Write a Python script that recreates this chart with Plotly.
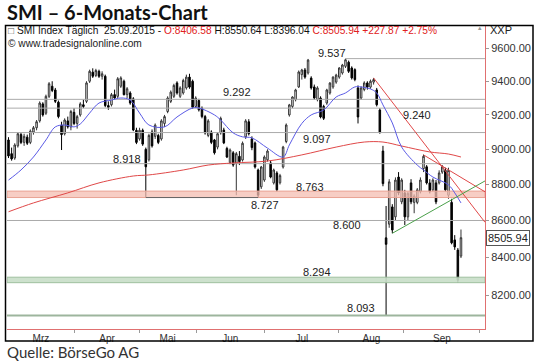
import math
import plotly.graph_objects as go

# ---------------- data ----------------
day_index = list(range(146))
open_px = [9054, 8975, 8950, 9020, 9085, 9040, 9070, 9040, 9100, 9125,
           9165, 9265, 9210, 9310, 9370, 9348, 9275, 9140, 9090, 9165,
           9130, 9215, 9150, 9200, 9260, 9280, 9400, 9455, 9435, 9460,
           9430, 9430, 9255, 9260, 9320, 9310, 9370, 9400, 9320, 9330,
           9295, 9110, 9060, 9110, 9000, 8940, 9100, 9075, 9080, 9060,
           9150, 9220, 9280, 9310, 9390, 9310, 9330, 9360, 9425, 9400,
           9250, 9285, 9240, 9190, 9080, 9100, 9054, 9013, 9095, 9112,
           9005, 8925, 8980, 8920, 8960, 8939, 9072, 9160, 9060, 9037,
           8882, 8787, 8825, 8940, 8922, 8809, 8865, 8810, 8899, 9045,
           9200, 9250, 9290, 9366, 9440, 9468, 9450, 9419, 9366, 9290,
           9300, 9250, 9270, 9330, 9366, 9395, 9425, 9450, 9490, 9515,
           9480, 9470, 9360, 9300, 9350, 9390, 9365, 9395, 9348, 9229,
           8990, 8505, 8580, 8675, 8620, 8842, 8703, 8753, 8620, 8809,
           8700, 8700, 8760, 8890, 8900, 8809, 8770, 8809, 8809, 8870,
           8880, 8740, 8700, 8494, 8439, 8406.58]
high_px = [9070, 9010, 9035, 9100, 9095, 9090, 9085, 9115, 9135, 9170,
           9280, 9275, 9320, 9395, 9400, 9360, 9285, 9160, 9180, 9190,
           9230, 9240, 9200, 9275, 9290, 9400, 9470, 9478, 9475, 9470,
           9460, 9440, 9280, 9330, 9350, 9425, 9430, 9410, 9365, 9340,
           9305, 9125, 9125, 9120, 9010, 9090, 9115, 9150, 9090, 9175,
           9200, 9310, 9345, 9385, 9400, 9370, 9415, 9440, 9445, 9410,
           9310, 9295, 9250, 9200, 9175, 9110, 9060, 9100, 9190, 9125,
           9015, 9005, 8990, 8985, 8990, 9045, 9175, 9175, 9075, 9045,
           8890, 8905, 8965, 9000, 8935, 8890, 8875, 8860, 9020, 9150,
           9265, 9310, 9355, 9465, 9475, 9480, 9535, 9430, 9380, 9370,
           9310, 9260, 9355, 9395, 9430, 9445, 9485, 9505, 9537, 9525,
           9490, 9478, 9375, 9370, 9400, 9400, 9410, 9420, 9360, 9240,
           9020, 8680, 8830, 8690, 8840, 8870, 8835, 8770, 8760, 8830,
           8745, 8780, 8840, 8970, 8910, 8830, 8835, 8825, 8880, 8910,
           8895, 8895, 8720, 8520, 8450, 8550.64]
low_px = [8950, 8935, 8940, 9010, 9030, 9020, 9025, 9030, 9085, 9110,
          9155, 9190, 9200, 9300, 9335, 9270, 9180, 8996, 9080, 9120,
          9110, 9140, 9120, 9190, 9240, 9270, 9390, 9420, 9425, 9420,
          9410, 9245, 9230, 9250, 9290, 9300, 9360, 9315, 9300, 9260,
          9105, 9030, 9050, 9020, 8727, 8930, 9010, 9060, 9030, 9050,
          9130, 9210, 9270, 9300, 9320, 9300, 9320, 9350, 9355, 9235,
          9240, 9220, 9180, 9085, 9070, 9030, 8970, 9000, 9085, 9030,
          8950, 8915, 8900, 8740, 8910, 8930, 9060, 9080, 8995, 8890,
          8727, 8775, 8815, 8930, 8835, 8800, 8760, 8800, 8890, 9035,
          9190, 9240, 9280, 9360, 9410, 9415, 9440, 9350, 9290, 9280,
          9180, 9170, 9260, 9320, 9355, 9385, 9415, 9440, 9480, 9450,
          9410, 9400, 9150, 9290, 9340, 9350, 9355, 9380, 9250, 9090,
          8790, 8093, 8560, 8530, 8600, 8740, 8690, 8575, 8600, 8690,
          8640, 8690, 8750, 8870, 8800, 8750, 8760, 8690, 8800, 8860,
          8760, 8720, 8470, 8440, 8265, 8396.04]
close_px = [8962, 8945, 9025, 9090, 9040, 9075, 9035, 9105, 9125, 9160,
            9270, 9200, 9310, 9385, 9345, 9280, 9190, 9085, 9170, 9130,
            9220, 9150, 9190, 9265, 9250, 9390, 9460, 9430, 9465, 9430,
            9445, 9255, 9245, 9320, 9300, 9415, 9420, 9320, 9355, 9270,
            9112, 9040, 9110, 9030, 8900, 9080, 9020, 9140, 9040, 9165,
            9190, 9300, 9335, 9375, 9330, 9360, 9405, 9425, 9365, 9245,
            9300, 9230, 9190, 9095, 9165, 9040, 8980, 9090, 9180, 9037,
            8956, 8996, 8910, 8975, 8930, 9035, 9165, 9090, 9010, 8899,
            8740, 8899, 8956, 8990, 8842, 8882, 8770, 8850, 9013, 9141,
            9259, 9306, 9348, 9456, 9468, 9425, 9528, 9360, 9300, 9360,
            9188, 9180, 9348, 9389, 9425, 9437, 9480, 9498, 9530, 9460,
            9420, 9410, 9188, 9360, 9390, 9365, 9400, 9410, 9260, 9100,
            8805, 8470, 8815, 8548, 8825, 8753, 8825, 8620, 8750, 8703,
            8735, 8770, 8825, 8960, 8809, 8760, 8825, 8703, 8865, 8900,
            8770, 8880, 8478, 8456, 8278.07, 8505.94]

# short moving average (blue)
ma_fast_idx = [0, 4, 8, 12, 15, 18, 21, 23, 26, 29, 33, 36, 39, 42, 45, 50, 54,
               59, 61, 66, 68, 72, 75, 78, 83, 88, 90, 94, 97, 101, 105, 108,
               111, 113, 116, 118, 120, 123, 126, 131, 133, 136, 141, 143, 145]
ma_fast_val = [8825, 8882, 8956, 9054, 9130, 9141, 9130, 9147, 9211, 9270, 9288,
               9300, 9288, 9211, 9141, 9130, 9188, 9241, 9241, 9200, 9170, 9095,
               9072, 9066, 9007, 8956, 9025, 9150, 9200, 9229, 9306, 9330, 9366,
               9366, 9354, 9330, 9259, 9153, 9013, 8910, 8882, 8842, 8798, 8753,
               8697]
# long moving average (red)
ma_slow_idx = [0, 8, 19, 29, 40, 45, 56, 64, 72, 83, 94, 105, 114, 120, 126, 135, 141, 145]
ma_slow_val = [8648, 8697, 8753, 8809, 8848, 8854, 8882, 8910, 8922, 8933, 8968,
               9013, 9042, 9042, 9019, 8985, 8973, 8956]

month_names = ["Mrz", "Apr", "Mai", "Jun", "Jul", "Aug", "Sep"]
month_centers = [10.4, 31.6, 51.0, 71.1, 94.0, 116.3, 138.9]
month_edges = [21.3, 41.9, 60.1, 82.1, 105.8, 126.7, 151.0]
price_ticks = [8200, 8400, 8600, 8800, 9000, 9200, 9400, 9600]

full_levels = [9292, 9240, 9097, 8918, 8600]
bottom_level = 8093
peak_level, peak_from_idx = 9537, 108
support_level, support_from_idx, support_to_idx = 8727, 44, 80
pink_band = [8727, 8763]
green_band = [8265, 8294]

trend_red_a_idx, trend_red_a_val = [117, 152.7], [9420, 8590]
trend_red_b_idx, trend_red_b_val = [133, 152.7], [8968, 8759]
trend_green_idx, trend_green_val = [123, 152.7], [8530, 8820]

level_labels = ["9.537", "9.292", "9.240", "9.097", "8.918", "8.763", "8.727", "8.600", "8.294", "8.093"]

last_close = 8505.94
header_black1 = "SMI Index Täglich\u00a0\u00a025.09.2015 - "
header_red1 = "O:8406.58"
header_black2 = " H:8550.64 L:8396.04 "
header_red2 = "C:8505.94 +227.87 +2.75%"

# ---------------- layout geometry ----------------
W, H = 540, 364
L, R, T, B = 7, 55, 25, 35
PW, PH = W - L - R, H - T - B
X_RANGE = [-0.48, 152.7]
Y_RANGE = [math.log10(8024), math.log10(9744)]

label_px = [(332, 53), (237, 92), (417, 115), (317, 139), (127, 159),
            (310, 187), (265, 205), (347, 225), (317, 272), (361, 308)]


def paper(px, py):
    return (px - L) / PW, (H - B - py) / PH


fig = go.Figure()

# bands
for band, fillc, linec in [(pink_band, "rgba(244,190,178,0.75)", "#e9a394"),
                           (green_band, "rgba(200,222,200,0.9)", "#9fc09f")]:
    fig.add_trace(go.Scatter(
        x=[X_RANGE[0], X_RANGE[1], X_RANGE[1], X_RANGE[0], X_RANGE[0]],
        y=[band[0], band[0], band[1], band[1], band[0]],
        mode="lines", fill="toself", fillcolor=fillc,
        line=dict(color=linec, width=1), hoverinfo="skip"))

# horizontal levels
for lv in full_levels:
    fig.add_trace(go.Scatter(x=X_RANGE, y=[lv, lv], mode="lines",
                             line=dict(color="#ababab", width=1), hoverinfo="skip"))
fig.add_trace(go.Scatter(x=X_RANGE, y=[bottom_level, bottom_level], mode="lines",
                         line=dict(color="#9db59d", width=2), hoverinfo="skip"))
fig.add_trace(go.Scatter(x=[peak_from_idx, X_RANGE[1]], y=[peak_level, peak_level], mode="lines",
                         line=dict(color="#ababab", width=1), hoverinfo="skip"))
fig.add_trace(go.Scatter(x=[support_from_idx, support_to_idx], y=[support_level, support_level],
                         mode="lines", line=dict(color="#666666", width=1), hoverinfo="skip"))

# candles
fig.add_trace(go.Candlestick(
    x=day_index, open=open_px, high=high_px, low=low_px, close=close_px,
    increasing=dict(line=dict(color="#333333", width=1), fillcolor="#ffffff"),
    decreasing=dict(line=dict(color="#000000", width=1), fillcolor="#000000"),
    whiskerwidth=0, hoverinfo="skip"))

# moving averages
fig.add_trace(go.Scatter(x=ma_slow_idx, y=ma_slow_val, mode="lines",
                         line=dict(color="#e04848", width=1, shape="spline"), hoverinfo="skip"))
fig.add_trace(go.Scatter(x=ma_fast_idx, y=ma_fast_val, mode="lines",
                         line=dict(color="#5a5ae6", width=1, shape="spline"), hoverinfo="skip"))

# trend lines
for xs, ys, c in [(trend_red_a_idx, trend_red_a_val, "#e04848"),
                  (trend_red_b_idx, trend_red_b_val, "#e04848"),
                  (trend_green_idx, trend_green_val, "#4aa04a")]:
    fig.add_trace(go.Scatter(x=xs, y=ys, mode="lines", line=dict(color=c, width=1),
                             hoverinfo="skip"))

annotations = []
for txt, (px, py) in zip(level_labels, label_px):
    ax_, ay_ = paper(px, py)
    annotations.append(dict(x=ax_, y=ay_, xref="paper", yref="paper", text=txt,
                            showarrow=False, xanchor="center", yanchor="middle",
                            font=dict(family="Liberation Sans, Arial", size=11, color="#222222")))

# title
tx, ty = paper(5, 12)
annotations.append(dict(x=tx, y=ty, xref="paper", yref="paper", text="<b>SMI – 6-Monats-Chart</b>",
                        showarrow=False, xanchor="left", yanchor="middle",
                        font=dict(family="Lato", size=20, color="#111111")))
# header
hx, hy = paper(6, 30)
header = ("<span style='color:#555'>\u25a1</span> " + header_black1 +
          "<span style='color:#e02020'>" + header_red1 + "</span>" + header_black2 +
          "<span style='color:#e02020'>" + header_red2 + "</span>")
annotations.append(dict(x=hx, y=hy, xref="paper", yref="paper", text=header, showarrow=False,
                        xanchor="left", yanchor="middle",
                        font=dict(family="Liberation Sans, Arial", size=10.2, color="#111111")))
cx, cy = paper(6, 43)
annotations.append(dict(x=cx, y=cy, xref="paper", yref="paper", text="© www.tradesignalonline.com",
                        showarrow=False, xanchor="left", yanchor="middle",
                        font=dict(family="Liberation Sans, Arial", size=10.2, color="#222222")))
# small scroll marker + XXP
mx, my = paper(480, 28)
annotations.append(dict(x=mx, y=my, xref="paper", yref="paper", text="\u25b4", showarrow=False,
                        xanchor="center", yanchor="middle",
                        font=dict(family="DejaVu Sans", size=7, color="#999999")))
xx, xy = paper(488, 30)
annotations.append(dict(x=xx, y=xy, xref="paper", yref="paper", text="XXP", showarrow=False,
                        xanchor="left", yanchor="middle",
                        font=dict(family="Liberation Sans, Arial", size=11, color="#222222")))
# price tag
px_, _ = paper(486, 0)
annotations.append(dict(x=px_, y=math.log10(last_close), xref="paper", yref="y",
                        text="%.2f" % last_close, showarrow=False, xanchor="left", yanchor="middle",
                        bordercolor="#555555", borderwidth=1, borderpad=1, bgcolor="white",
                        font=dict(family="Liberation Sans, Arial", size=11, color="#222222")))
# source
sx, sy = paper(5, 352)
annotations.append(dict(x=sx, y=sy, xref="paper", yref="paper", text="Quelle: BörseGo AG",
                        showarrow=False, xanchor="left", yanchor="middle",
                        font=dict(family="Lato", size=15, color="#333333")))

fx0, fy0 = paper(5.5, 341)
fx1, fy1 = paper(533, 25.5)
shapes = [dict(type="rect", xref="paper", yref="paper", x0=fx0, y0=fy0, x1=fx1, y1=fy1,
               line=dict(color="#000000", width=1.5), fillcolor="rgba(0,0,0,0)", layer="above")]

fig.update_layout(
    width=W, height=H, margin=dict(l=L, r=R, t=T, b=B),
    paper_bgcolor="white", plot_bgcolor="white", showlegend=False,
    annotations=annotations, shapes=shapes,
    xaxis=dict(range=X_RANGE, showgrid=False, zeroline=False, rangeslider=dict(visible=False),
               tickmode="array", tickvals=month_centers, ticktext=month_names, ticks="",
               tickfont=dict(family="Liberation Sans, Arial", size=10, color="#333333"),
               showline=True, linecolor="#e07070", linewidth=1, fixedrange=True,
               minor=dict(tickmode="array", tickvals=month_edges, ticks="outside",
                          ticklen=3, tickcolor="#9a9a9a")),
    yaxis=dict(type="log", range=Y_RANGE, side="right", showgrid=False, zeroline=False,
               tickmode="array", tickvals=price_ticks, ticktext=["%.2f" % v for v in price_ticks],
               ticks="outside", ticklen=3, tickcolor="#9a9a9a",
               tickfont=dict(family="Liberation Sans, Arial", size=11, color="#333333"),
               showline=True, linecolor="#e07070", linewidth=1, fixedrange=True),
)

fig.write_html("out.html", config={"displayModeBar": False},
               post_script="document.body.style.margin='0';document.body.style.padding='0';")
